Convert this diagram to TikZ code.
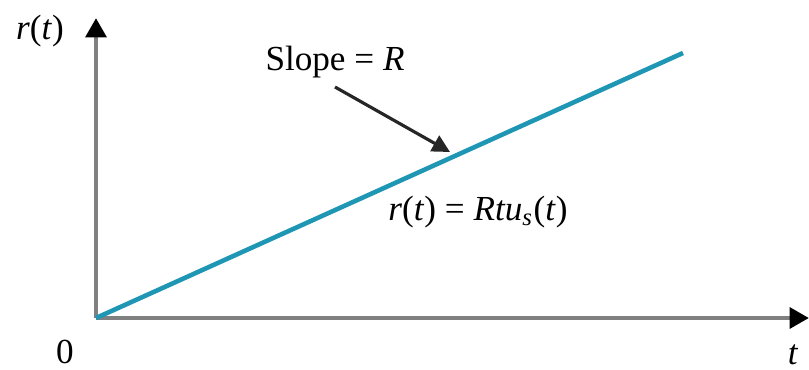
\documentclass[tikz,border=0pt]{standalone}
\usepackage{fontspec}
\setmainfont{Liberation Serif}
\usetikzlibrary{arrows.meta}
\definecolor{axisgray}{RGB}{128,128,128}
\definecolor{rampblue}{RGB}{30,150,180}
\tikzset{
    axis/.style={draw=axisgray, line width=1.4pt, -{Triangle[length=5.5pt,width=5.8pt,color=black]}},
    ramp/.style={draw=rampblue, line width=1.3pt},
    pointer/.style={draw=black!85, line width=0.9pt, -{Triangle[length=5pt,width=5pt]}},
    lbl/.style={font=\fontsize{10}{12}\selectfont, inner sep=0pt}
}
\begin{document}
\begin{tikzpicture}[x=0.01cm,y=0.01cm]
    \useasboundingbox (-96,-51) rectangle (713,318);
    \coordinate (O) at (0,0);
    \coordinate (ytip) at (0,300);
    \coordinate (xtip) at (713,0);
    \coordinate (rampend) at (587,265);
    % axes
    \draw[axis] (O) -- (ytip);
    \draw[axis] (O) -- (xtip);
    % ramp
    \draw[ramp] (O) -- (rampend);
    \node[lbl] (yname) at (-56,287) {\textit{r}(\textit{t})};
    \node[lbl] (zero) at (-31,-34) {0};
    \node[lbl] (tname) at (697,-37) {\textit{t}};
    \node[lbl] (slope) at (239,256) {Slope = \textit{R}};
    \node[lbl] (eqn) at (382,106) {\textit{r}(\textit{t}) = \textit{Rtu}\textsubscript{\textit{s}}(\textit{t})};
    \coordinate (hit) at (354,166);
    \draw[pointer] (239,231) -- (hit);
\end{tikzpicture}
\end{document}
